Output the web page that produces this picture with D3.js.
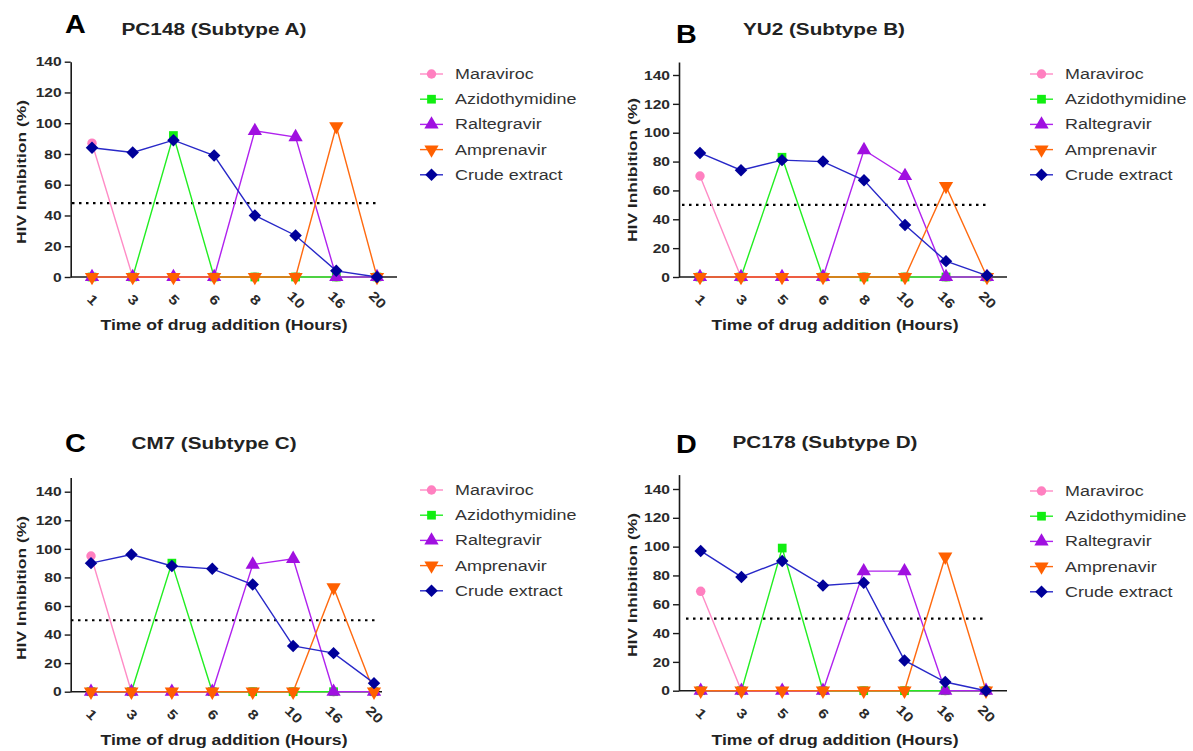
<!DOCTYPE html>
<html>
<head>
<meta charset="utf-8">
<script src="https://cdn.jsdelivr.net/npm/d3@7"></script>
<style>
	body{margin:0;background:#fff;}
	svg text{font-family:"Liberation Sans",Arial,sans-serif;}
</style>
</head>
<body>
<div id="chart"></div>
<script>
// data
var hours=["1","3","5","6","8","10","16","20"];
var drugs=["Maraviroc","Azidothymidine","Raltegravir","Amprenavir","Crude extract"];
var panelLetters=["A","B","C","D"];
var panelTitles=["PC148 (Subtype A)","YU2 (Subtype B)","CM7 (Subtype C)","PC178 (Subtype D)"];
var thresholds=[48,50,50,50];
var yTicks=[0,20,40,60,80,100,120,140];
var yMax=[140,149,150,150];

// one row per panel A..D
var maraviroc=[[87,0,0,0,0,0,0,0],[70,0,0,0,0,0,0,0],[95,0,0,0,0,0,0,0],[69,0,0,0,0,0,0,0]];
var azidothymidine=[[0,0,92,0,0,0,0,0],[0,0,83,0,0,0,0,0],[0,0,90,0,0,0,0,0],[0,0,99,0,0,0,0,0]];
var raltegravir=[[0,0,0,0,95,91,0,0],[0,0,0,0,88,70,0,0],[0,0,0,0,89,93,0,0],[0,0,0,0,83,83,0,0]];
var amprenavir=[[0,0,0,0,0,0,98,0],[0,0,0,0,0,0,63,0],[0,0,0,0,0,0,73,0],[0,0,0,0,0,0,93,0]];
var crude=[[84,81,89,79,40,27,4,0],[86,74,81,80,67,36,11,1],[90,96,88,86,75,32,27,6],[97,79,90,73,75,21,6,0]];

(function(){
	var W=1193,H=751;
	var series=[maraviroc,azidothymidine,raltegravir,amprenavir,crude];
	var lineCol=["#ff8cc6","#22ee22","#b022ee","#ff6a10","#2828c8"];
	var markCol=["#ff80c0","#11ee11","#a010e0","#ff6000","#000099"];
	var shapes=[d3.symbolCircle,d3.symbolSquare,d3.symbolTriangle,d3.symbolTriangle,d3.symbolSquare];
	var sizes=[70,76,88,88,78];
	var rot=[0,0,0,180,45];

	// layout of each panel (pixels)
	var layout=[
		{left:70.7,right:397,x0:92,x1:377,y0:277,y140:61.7,dotL:72,dotR:380,
		 letX:65,letY:33,titX:214,titY:35,titW:185,ylX:21,ylY:172,xtX:224,xtY:330,legX:420,legY:74},
		{left:679,right:1007,x0:700,x1:987,y0:277,y140:75,dotL:682,dotR:987,
		 letX:676,letY:43,titX:824,titY:35,titW:162,ylX:632,ylY:170,xtX:835,xtY:330,legX:1030,legY:74},
		{left:70.7,right:382,x0:91,x1:374,y0:691.7,y140:491.7,dotL:71,dotR:376,
		 letX:65,letY:452,titX:214,titY:449,titW:165,ylX:21,ylY:588,xtX:224,xtY:745,legX:420,legY:490},
		{left:679,right:1007,x0:700.7,x1:986,y0:690.7,y140:489,dotL:686,dotR:983,
		 letX:676,letY:453,titX:825,titY:448,titW:185,ylX:632,ylY:585,xtX:835,xtY:745,legX:1030,legY:491}
	];

	var svg=d3.select("#chart").append("svg")
		.attr("width",W).attr("height",H);

	function stretch(sel,k){
		sel.each(function(){
			var w=this.getComputedTextLength();
			d3.select(this).attr("textLength",w*k).attr("lengthAdjust","spacingAndGlyphs");
		});
	}
	function fitTo(sel,w){
		sel.attr("textLength",w).attr("lengthAdjust","spacingAndGlyphs");
	}

	layout.forEach(function(L,p){
		var g=svg.append("g");
		var x=d3.scalePoint().domain(hours).range([L.x0,L.x1]);
		var pxPerUnit=(L.y0-L.y140)/140;
		var y=d3.scaleLinear().domain([0,yMax[p]]).range([L.y0,L.y0-yMax[p]*pxPerUnit]);

		// y axis
		var ya=g.append("g").attr("transform","translate("+L.left+",0)")
			.call(d3.axisLeft(y).tickValues(yTicks).tickSize(6).tickSizeOuter(0).tickPadding(3));
		ya.select(".domain").attr("stroke","#1a1a1a").attr("stroke-width",1.6);
		ya.selectAll(".tick line").attr("stroke","#1a1a1a").attr("stroke-width",1.4);
		ya.selectAll(".tick text").attr("font-size",13).attr("font-weight","bold")
			.attr("fill","#2a2a2a").call(stretch,1.2);

		// x axis: line spans the whole plot, ticks at the hours
		g.append("line").attr("x1",L.left).attr("x2",L.right)
			.attr("y1",L.y0).attr("y2",L.y0)
			.attr("stroke","#1a1a1a").attr("stroke-width",1.6);
		var xa=g.append("g").attr("transform","translate(0,"+L.y0+")")
			.call(d3.axisBottom(x).tickSize(4).tickSizeOuter(0));
		xa.select(".domain").remove();
		xa.selectAll(".tick line").attr("stroke","#1a1a1a").attr("stroke-width",1.2);
		xa.selectAll(".tick text")
			.attr("y",0).attr("dy",null)
			.attr("font-size",13.5).attr("font-weight","bold").attr("fill","#2a2a2a")
			.attr("text-anchor","middle").attr("dominant-baseline","central")
			.attr("transform","translate(0,23) rotate(45)")
			.call(stretch,1.2);

		// 50% reference line
		g.append("line").attr("x1",L.dotL).attr("x2",L.dotR)
			.attr("y1",y(thresholds[p])).attr("y2",y(thresholds[p]))
			.attr("stroke","#000").attr("stroke-width",2.2)
			.attr("stroke-dasharray","2.5,4.5");

		// series
		var line=d3.line().x(function(d,i){return x(hours[i]);}).y(function(d){return y(d);});
		series.forEach(function(s,k){
			var vals=s[p];
			g.append("path").attr("d",line(vals))
				.attr("fill","none").attr("stroke",lineCol[k]).attr("stroke-width",1.4);
			g.append("g").selectAll("path")
				.data(vals).enter().append("path")
				.attr("d",d3.symbol().type(shapes[k]).size(sizes[k]))
				.attr("transform",function(d,i){return "translate("+x(hours[i])+","+y(d)+") rotate("+rot[k]+")";})
				.attr("fill",markCol[k]);
		});

		// panel letter and title
		g.append("text").attr("x",L.letX).attr("y",L.letY)
			.attr("font-size",25).attr("font-weight","bold").attr("fill","#000")
			.text(panelLetters[p]).call(stretch,1.15);
		g.append("text").attr("x",L.titX).attr("y",L.titY)
			.attr("text-anchor","middle")
			.attr("font-size",16).attr("font-weight","bold").attr("fill","#222")
			.text(panelTitles[p]).call(fitTo,L.titW);

		// axis titles
		g.append("text").attr("transform","translate("+L.ylX+","+L.ylY+") rotate(-90)")
			.attr("text-anchor","middle").attr("dominant-baseline","central")
			.attr("font-size",13).attr("font-weight","bold").attr("fill","#222")
			.text("HIV Inhibition (%)").call(fitTo,144);
		g.append("text").attr("x",L.xtX).attr("y",L.xtY)
			.attr("text-anchor","middle")
			.attr("font-size",14).attr("font-weight","bold").attr("fill","#222")
			.text("Time of drug addition (Hours)").call(fitTo,247);

		// legend
		var leg=g.append("g").selectAll("g").data(drugs).enter().append("g")
			.attr("transform",function(d,i){return "translate("+L.legX+","+(L.legY+i*25.2)+")";});
		leg.append("line").attr("x1",0).attr("x2",23).attr("y1",0).attr("y2",0)
			.attr("stroke",function(d,i){return lineCol[i];}).attr("stroke-width",1.4);
		leg.append("path")
			.attr("d",function(d,i){return d3.symbol().type(shapes[i]).size(sizes[i])();})
			.attr("transform",function(d,i){return "translate(11.5,0) rotate("+rot[i]+")";})
			.attr("fill",function(d,i){return markCol[i];});
		leg.append("text").attr("x",35).attr("y",0).attr("dominant-baseline","central")
			.attr("font-size",14).attr("fill","#333")
			.text(function(d){return d;}).call(stretch,1.28);
	});
})();
</script>
</body>
</html>
